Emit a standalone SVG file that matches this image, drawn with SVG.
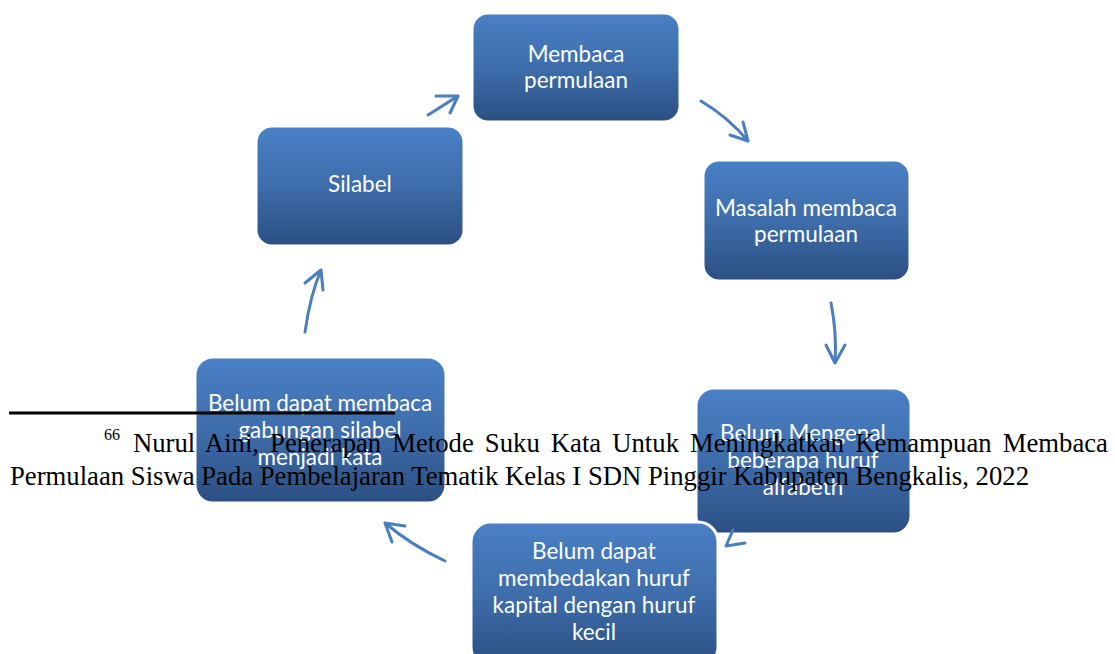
<svg xmlns="http://www.w3.org/2000/svg" width="1115" height="654" viewBox="0 0 1115 654">
<style>
.box{fill:url(#g);stroke:#fff;stroke-width:3}
.bt{font-family:Lato,"Open Sans",sans-serif;font-size:22.5px;fill:#fff;text-anchor:middle}
.arr{fill:none;stroke:#4a7ec0;stroke-width:3;stroke-linecap:round;stroke-linejoin:round}
.fn{font-family:"Liberation Serif","Times New Roman",serif;font-size:26.7px;fill:#000}
</style>
<defs>
<linearGradient id="g" x1="0" y1="0" x2="0" y2="1">
<stop offset="0" stop-color="#4a80c6"/>
<stop offset="0.5" stop-color="#3e6dab"/>
<stop offset="1" stop-color="#2b4f82"/>
</linearGradient>
</defs>
<g id="connectors">
<path class="arr" d="M428,115 L458,96 M436,96 L458,96 L450,113"/>
<path class="arr" d="M701,101 Q728,117 748,141 M730,135 L748,141 L743,122"/>
<path class="arr" d="M831,303 Q837,333 835,363 M826,345 L835,363 L845,345"/>
<path class="arr" d="M445,561 Q411,545 385,523 M392,542 L385,523 L405,526"/>
<path class="arr" d="M305,332 Q310,296 321,270 M305,283 L321,270 L323,290"/>
</g>
<g id="n1"><rect class="box" x="472" y="13" width="208" height="109" rx="16"/><text class="bt" x="576" y="62">Membaca</text><text class="bt" x="576" y="88">permulaan</text></g>
<g id="n2"><rect class="box" x="703" y="160" width="207" height="121" rx="16"/><text class="bt" x="806" y="216">Masalah membaca</text><text class="bt" x="806" y="242">permulaan</text></g>
<g id="n3"><rect class="box" x="696" y="388" width="215" height="146" rx="18"/><text class="bt" x="803" y="441">Belum Mengenal</text><text class="bt" x="803" y="468">beberapa huruf</text><text class="bt" x="803" y="495">alfabeth</text></g>
<g id="n3arrow"><path class="arr" d="M733,530 L726,546 L745,543"/></g>
<g id="n4"><rect class="box" x="471" y="522" width="247" height="145" rx="20"/><text class="bt" x="594" y="559">Belum dapat</text><text class="bt" x="594" y="586">membedakan huruf</text><text class="bt" x="594" y="613">kapital dengan huruf</text><text class="bt" x="594" y="640">kecil</text></g>
<g id="n5"><rect class="box" x="195" y="357" width="251" height="146" rx="18"/><text class="bt" x="320" y="411">Belum dapat membaca</text><text class="bt" x="320" y="438">gabungan silabel</text><text class="bt" x="320" y="465">menjadi kata</text></g>
<g id="n6"><rect class="box" x="256" y="126" width="208" height="120" rx="16"/><text class="bt" x="360" y="192">Silabel</text></g>
<g id="footnote">
<line x1="9" y1="413" x2="395" y2="413" stroke="#000" stroke-width="3"/>
<text class="fn" x="104" y="440" style="font-size:16px">66</text>
<text class="fn" x="133" y="452" style="word-spacing:4.4px">Nurul Aini, Penerapan Metode Suku Kata Untuk Meningkatkan Kemampuan Membaca</text>
<text class="fn" x="10" y="485">Permulaan Siswa Pada Pembelajaran Tematik Kelas I SDN Pinggir Kabupaten Bengkalis, 2022</text>
</g>
</svg>
